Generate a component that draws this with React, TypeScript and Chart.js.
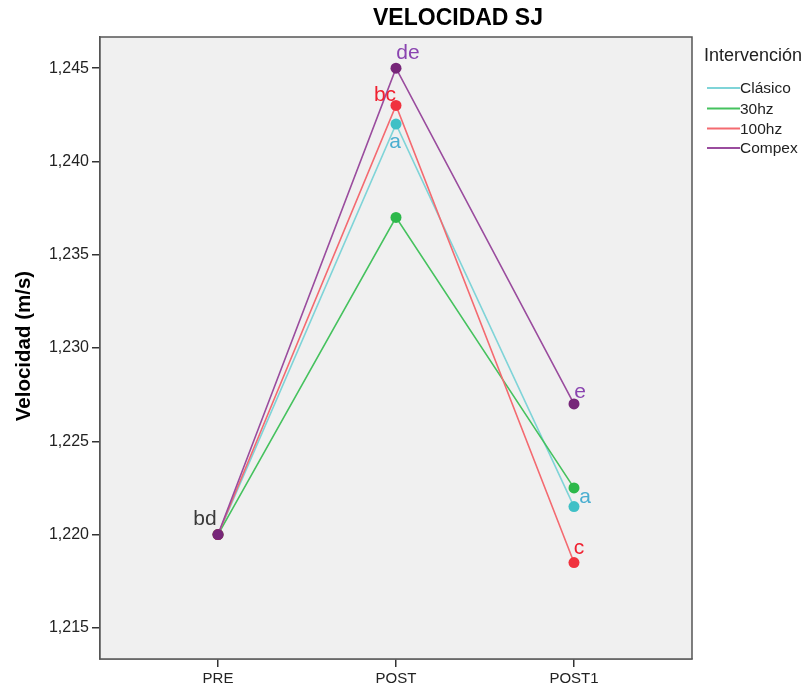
import React, { useEffect, useRef } from "react";
import { Chart, registerables } from "chart.js";

Chart.register(...registerables);

const categories = ["PRE", "POST", "POST1"];
const seriesNames = ["Clásico", "30hz", "100hz", "Compex"];
const clasico = [1.22, 1.242, 1.2215];
const hz30 = [1.22, 1.237, 1.2225];
const hz100 = [1.22, 1.243, 1.2185];
const compex = [1.22, 1.245, 1.227];
const yTicks = [1.215, 1.22, 1.225, 1.23, 1.235, 1.24, 1.245];
// letter annotations: [seriesIndex, categoryIndex, text]
const letterSeries = [3, 3, 2, 0, 3, 0, 2];
const letterCats = [0, 1, 1, 1, 2, 2, 2];
const letterTexts = ["bd", "de", "bc", "a", "e", "a", "c"];

const FONT = "'Liberation Sans', Arial, sans-serif";
const lineColors = ["#7fd4d8", "#45c25e", "#f46a70", "#9a4c9e"];
const pointColors = ["#3fc0c6", "#2cb84a", "#f0323e", "#772679"];
const letterColors = ["#3a3a3a", "#8a44b0", "#f02030", "#4aaed0", "#8a44b0", "#4aaed0", "#f02030"];
const letterOffsets = [[-13, -15], [12, -15], [-11, -10], [-1, 18], [6, -12], [11, -9], [5, -14]];

export default function App() {
  const ref = useRef<HTMLCanvasElement>(null);
  useEffect(() => {
    document.body.style.margin = "0";
    const values = [clasico, hz30, hz100, compex];
    const deco = {
      id: "deco",
      beforeDatasetsDraw(chart: any) {
        const { ctx, chartArea: a } = chart;
        ctx.save();
        ctx.fillStyle = "#f0f0f0";
        ctx.fillRect(a.left, a.top, a.right - a.left, a.bottom - a.top);
        ctx.strokeStyle = "#555";
        ctx.lineWidth = 1.5;
        ctx.strokeRect(a.left, a.top, a.right - a.left, a.bottom - a.top);
        ctx.restore();
      },
      afterDraw(chart: any) {
        const { ctx } = chart;
        const xs = chart.scales.x;
        const ys = chart.scales.y;
        ctx.save();
        // title
        ctx.fillStyle = "#000";
        ctx.font = `bold 23px ${FONT}`;
        ctx.textAlign = "center";
        ctx.textBaseline = "middle";
        ctx.fillText("VELOCIDAD SJ", 458, 19);
        // y title
        ctx.save();
        ctx.translate(24, 346);
        ctx.rotate(-Math.PI / 2);
        ctx.font = `bold 20.5px ${FONT}`;
        ctx.fillText("Velocidad (m/s)", 0, 0);
        ctx.restore();
        // legend
        ctx.textAlign = "left";
        ctx.font = `18px ${FONT}`;
        ctx.fillStyle = "#222";
        ctx.fillText("Intervención", 704, 56);
        ctx.font = `15.5px ${FONT}`;
        const ly = [88, 108.5, 128.5, 148];
        seriesNames.forEach((n, i) => {
          const y = ly[i];
          ctx.strokeStyle = lineColors[i];
          ctx.lineWidth = 2;
          ctx.beginPath();
          ctx.moveTo(707, y);
          ctx.lineTo(740, y);
          ctx.stroke();
          ctx.fillStyle = "#222";
          ctx.fillText(n, 740, y + 1);
        });
        // letters
        ctx.font = `21px ${FONT}`;
        ctx.textAlign = "center";
        letterTexts.forEach((t, k) => {
          const v = values[letterSeries[k]][letterCats[k]];
          const px = xs.getPixelForValue(letterCats[k]) + letterOffsets[k][0];
          const py = ys.getPixelForValue(v) + letterOffsets[k][1];
          ctx.fillStyle = letterColors[k];
          ctx.fillText(t, px, py);
        });
        ctx.restore();
      },
    };
    const chart = new Chart(ref.current!, {
      type: "line",
      data: {
        datasets: values.map((vals, i) => ({
          label: seriesNames[i],
          data: vals.map((v, j) => ({ x: j, y: v })),
          borderColor: lineColors[i],
          backgroundColor: pointColors[i],
          pointBackgroundColor: pointColors[i],
          pointBorderColor: pointColors[i],
          pointRadius: 5.5,
          pointBorderWidth: 0,
          borderWidth: 1.6,
          tension: 0,
          order: 3 - i,
        })),
      },
      options: {
        animation: false,
        responsive: false,
        layout: { padding: { left: 0, top: 37, right: 116, bottom: 0 } },
        plugins: { legend: { display: false }, title: { display: false }, tooltip: { enabled: false } },
        scales: {
          x: {
            type: "linear",
            min: -0.663,
            max: 2.663,
            afterBuildTicks: (s: any) => { s.ticks = categories.map((_, i) => ({ value: i })); },
            afterFit: (s: any) => { s.height = 33; },
            ticks: {
              callback: (v: any) => categories[v] ?? "",
              color: "#222",
              font: { family: FONT, size: 15 },
              padding: 3,
              maxRotation: 0,
              autoSkip: false,
            },
            grid: { drawOnChartArea: false, drawTicks: true, tickLength: 8, color: "#333", lineWidth: 1.5 },
            border: { display: true, color: "#555", width: 1.5 },
          },
          y: {
            type: "linear",
            min: 1.21333,
            max: 1.24667,
            afterBuildTicks: (s: any) => { s.ticks = yTicks.map((v) => ({ value: v })); },
            afterFit: (s: any) => { s.width = 100; },
            ticks: {
              callback: (v: any) => Number(v).toFixed(3).replace(".", ","),
              color: "#222",
              font: { family: FONT, size: 16 },
              padding: 3,
              autoSkip: false,
            },
            grid: { drawOnChartArea: false, drawTicks: true, tickLength: 8, color: "#333", lineWidth: 1.5 },
            border: { display: true, color: "#555", width: 1.5 },
          },
        },
      },
      plugins: [deco],
    } as any);
    return () => chart.destroy();
  }, []);
  return (
    <div style={{ width: 808, height: 692, background: "#fff" }}>
      <canvas ref={ref} width={808} height={692} style={{ display: "block" }} />
    </div>
  );
}
